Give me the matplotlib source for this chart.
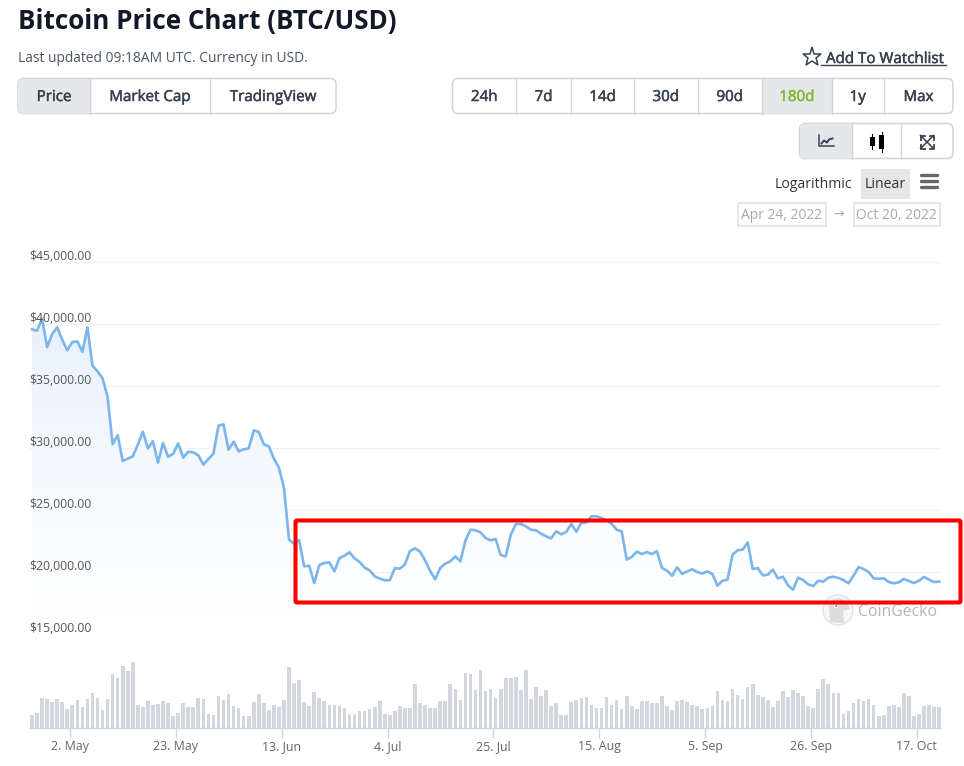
import numpy as np
import pandas as pd
import matplotlib
matplotlib.use("Agg")
import matplotlib.pyplot as plt
import matplotlib.dates as mdates
import matplotlib.patheffects as pe
from matplotlib.colors import LinearSegmentedColormap
from matplotlib.patches import FancyBboxPatch, Rectangle, Circle, Ellipse, Polygon

plt.rcParams['font.family'] = ['Open Sans', 'DejaVu Sans']

W, H = 964, 766

# daily price
prices = [39570, 39460, 40430, 38140, 39190, 39730, 38730, 37880, 38550, 38600,
          37770, 39730, 36640, 36180, 35620, 34110, 30300, 31050, 28950, 29140,
          29330, 30270, 31320, 29970, 30540, 28820, 30400, 29300, 29520, 30380,
          29220, 29700, 29650, 29410, 28660, 29110, 29540, 31800, 31910, 29860,
          30510, 29730, 29890, 29970, 31420, 31290, 30300, 30130, 29140, 28410,
          26770, 22610, 22280, 22580, 20460, 20510, 19110, 20560, 20730, 20780,
          20050, 21130, 21320, 21590, 21100, 20810, 20350, 20130, 19650, 19460,
          19330, 19350, 20320, 20270, 20620, 21690, 21910, 21640, 20940, 20080,
          19410, 20320, 20670, 20860, 21260, 20860, 22550, 23410, 23360, 23200,
          22740, 22550, 22660, 21370, 21260, 23010, 23870, 23870, 23680, 23410,
          23360, 23090, 22880, 22710, 23280, 23040, 23230, 23870, 23250, 23980,
          24000, 24490, 24490, 24350, 24170, 23900, 23410, 23280, 21000, 21210,
          21640, 21450, 21610, 21450, 21670, 20320, 20110, 19700, 20380, 19840,
          20050, 20220, 20000, 19870, 20050, 19840, 18900, 19300, 19380, 21400,
          21750, 21800, 22390, 20240, 20320, 19730, 19780, 20190, 19490, 19620,
          18930, 18580, 19540, 19350, 19000, 18870, 19300, 19220, 19540, 19620,
          19520, 19350, 19090, 19700, 20400, 20240, 20000, 19490, 19460, 19490,
          19190, 19090, 19170, 19440, 19270, 19110, 19300, 19600, 19380, 19190,
          19220]

# daily volume, in relative units
volumes = [38, 45, 89, 85, 76, 85, 76, 55, 68, 82, 62, 85, 103, 89, 52, 85, 161, 150,
           184, 170, 197, 69, 62, 79, 69, 72, 79, 73, 35, 45, 73, 62, 62, 89, 86, 42,
           38, 96, 82, 100, 66, 58, 35, 35, 76, 100, 73, 52, 69, 62, 82, 181, 133, 143,
           76, 66, 106, 89, 79, 69, 69, 65, 59, 42, 42, 49, 49, 55, 62, 79, 42, 38,
           49, 65, 59, 59, 130, 73, 69, 59, 59, 79, 79, 130, 116, 83, 164, 160, 113, 173,
           109, 116, 89, 116, 150, 150, 153, 113, 173, 86, 123, 96, 113, 66, 73, 38, 38, 76,
           82, 89, 92, 69, 59, 59, 92, 69, 82, 55, 96, 66, 55, 79, 79, 73, 73, 96,
           66, 52, 79, 82, 76, 69, 66, 55, 59, 66, 109, 82, 79, 116, 99, 86, 123, 130,
           99, 92, 82, 62, 79, 109, 92, 113, 103, 96, 66, 59, 116, 146, 130, 103, 103, 42,
           49, 73, 86, 79, 86, 69, 35, 38, 66, 69, 62, 103, 96, 35, 42, 66, 69, 62,
           62]

price_ticks = [15000, 20000, 25000, 30000, 35000, 40000, 45000]
date_ticks = ["2022-05-02", "2022-05-23", "2022-06-13", "2022-07-04", "2022-07-25",
              "2022-08-15", "2022-09-05", "2022-09-26", "2022-10-17"]
date_labels = ["2. May", "23. May", "13. Jun", "4. Jul", "25. Jul",
               "15. Aug", "5. Sep", "26. Sep", "17. Oct"]

days = pd.date_range("2022-04-24 11:00", periods=len(prices), freq="D")

INK = "#374151"
BORDER = "#D1D5DB"
SELECTED = "#E5E7EB"


def px_axes(fig, left, top, right, bottom, **kw):
    return fig.add_axes([left / W, 1 - bottom / H, (right - left) / W, (bottom - top) / H], **kw)


fig = plt.figure(figsize=(W / 100, H / 100), dpi=100, facecolor="white")

# x range of the plot, 5.04 px per day with 2 May at x=70
x0 = mdates.date2num(pd.Timestamp("2022-05-02"))
xlim = (x0 + (29.5 - 70) / 5.04, x0 + (941 - 70) / 5.04)

# price panel
ax = px_axes(fig, 29.5, 262, 941, 634)
ax.set_facecolor("none")
cmap = LinearSegmentedColormap.from_list("fade", ["#E6F0FB", "#F6FAFE", "#FFFFFF"])
img = ax.imshow(np.linspace(0, 1, 256).reshape(-1, 1), cmap=cmap, aspect="auto", zorder=1,
                extent=[xlim[0], xlim[1], 15000, 41000], origin="upper")
poly = ax.fill_between(days, prices, 15000, color="none")
img.set_clip_path(poly.get_paths()[0], transform=ax.transData)
ax.plot(days, prices, color="#7CB5EC", lw=1.9, zorder=3, solid_joinstyle="round")
ax.set_xlim(xlim)
ax.set_ylim(15000, 45000)
for p in price_ticks:
    ax.axhline(p, color="#F0F2F6", lw=1, zorder=0)
    ax.annotate("${:,.2f}".format(p), (0, p), xycoords=("axes fraction", "data"),
                xytext=(0, 5.5), textcoords="offset pixels", fontsize=8.8, color="#555555",
                ha="left", va="center", zorder=4, clip_on=False)
ax.set_xticks([])
ax.set_yticks([])
for s in ax.spines.values():
    s.set_visible(False)

# volume panel
vax = px_axes(fig, 29.5, 650, 941, 727.5)
vax.set_facecolor("none")
vax.bar(days, volumes, width=0.72, color="#D3D6DC")
vax.set_xlim(xlim)
vax.set_ylim(0, 232.5)
vax.set_yticks([])
vax.set_xticks(mdates.date2num(pd.to_datetime(date_ticks)))
vax.set_xticklabels(date_labels, fontsize=8.9, color="#666666")
vax.tick_params(axis="x", length=7.2, width=1, color="#CCD6EB", pad=1.5)
for name, s in vax.spines.items():
    s.set_visible(name == "bottom")
vax.spines["bottom"].set_color("#CCD6EB")
vax.spines["bottom"].set_linewidth(1)

# page furniture, in pixel coordinates
ui = fig.add_axes([0, 0, 1, 1], zorder=5)
ui.set_xlim(0, W)
ui.set_ylim(H, 0)
ui.axis("off")

medium = [pe.withStroke(linewidth=0.35, foreground=INK)]


def button_group(left, right, top, bottom, edges, labels, selected=None):
    box = FancyBboxPatch((left, top), right - left, bottom - top,
                         boxstyle="round,pad=0,rounding_size=6", fc="white", ec=BORDER, lw=1.1, zorder=2)
    ui.add_patch(box)
    stops = [left] + edges + [right]
    if selected is not None:
        fillr = Rectangle((stops[selected], top), stops[selected + 1] - stops[selected], bottom - top,
                          fc=SELECTED, ec="none", zorder=2.1)
        ui.add_patch(fillr)
        fillr.set_clip_path(box)
    for e in edges:
        ui.plot([e, e], [top, bottom], color=BORDER, lw=1, zorder=2.2)
    for i, lab in enumerate(labels):
        color = INK
        if lab == "180d":
            color = "#84B82F"
        t = ui.text((stops[i] + stops[i + 1]) / 2, (top + bottom) / 2 + 1.5, lab, fontsize=10.9, color=color,
                    ha="center", va="center", zorder=3)
        t.set_path_effects([pe.withStroke(linewidth=0.35, foreground=color)])


ui.text(18.5, 21, "Bitcoin Price Chart (BTC/USD)", fontsize=18.7, fontweight="bold", color="#111827",
        ha="left", va="center")
ui.text(18, 59, "Last updated 09:18AM UTC. Currency in USD.", fontsize=9.95, color="#4B5563",
        ha="left", va="center")

ui.plot([812], [57], marker="*", ms=14, mfc="none", mec=INK, mew=1.1)
ui.text(826, 59.5, "Add To Watchlist", fontsize=10.9, color=INK, ha="left", va="center", path_effects=medium)
ui.plot([821, 946], [64.5, 64.5], color=INK, lw=1)

button_group(18, 336, 78.5, 113.5, [90, 210], ["Price", "Market Cap", "TradingView"], selected=0)
button_group(452.5, 953, 78.5, 113.5, [516, 571, 634, 697.5, 762, 831.5, 884],
             ["24h", "7d", "14d", "30d", "90d", "180d", "1y", "Max"], selected=5)
button_group(799.5, 953, 123.5, 158.5, [851.5, 901], ["", "", ""], selected=0)

# line chart icon
ui.plot([819, 819, 833.5], [135, 146, 146], color=INK, lw=1.1, zorder=4)
ui.plot([821.5, 824, 827, 829, 832.5], [143.5, 140.5, 142.5, 139.5, 138.5], color=INK, lw=1.4, zorder=4)
# candle icon
ui.plot([872, 872], [134, 149], color="black", lw=0.8, zorder=4)
ui.plot([881.5, 881.5], [132, 152], color="black", lw=0.8, zorder=4)
ui.add_patch(Rectangle((870, 137), 5, 9, fc="black", ec="none", zorder=4))
ui.add_patch(Rectangle((879, 135), 5, 14, fc="black", ec="none", zorder=4))
# expand icon
cx, cy, r = 927, 142, 6.5
ui.plot([cx - r, cx + r], [cy - r, cy + r], color=INK, lw=1.1, zorder=4)
ui.plot([cx - r, cx + r], [cy + r, cy - r], color=INK, lw=1.1, zorder=4)
for sx in (-1, 1):
    for sy in (-1, 1):
        ui.plot([cx + sx * (r - 4), cx + sx * r, cx + sx * r], [cy + sy * r, cy + sy * r, cy + sy * (r - 4)],
                color=INK, lw=1.3, zorder=4)

# range selector row
ui.text(775, 185, "Logarithmic", fontsize=10.1, color="#333333", ha="left", va="center")
ui.add_patch(Rectangle((861, 169), 49, 30, fc="#E6E6E6", ec="none"))
ui.text(885.5, 185, "Linear", fontsize=10.1, color="#333333", ha="center", va="center")
for y in (175, 181, 187):
    ui.plot([920.5, 936.5], [y, y], color="#666666", lw=2.4, solid_capstyle="round")

ui.add_patch(Rectangle((737.5, 202.5), 88, 23.5, fc="white", ec="#E0E0E0", lw=1.1))
ui.text(781.5, 215.5, "Apr 24, 2022", fontsize=10, color="#A8A8A8", ha="center", va="center")
ui.text(839, 214, "\u2192", fontsize=9, color="#AAAAAA", ha="center", va="center",
        family=['DejaVu Sans'])
ui.add_patch(Rectangle((853.5, 202.5), 86, 23.5, fc="white", ec="#E0E0E0", lw=1.1))
ui.text(896.5, 215.5, "Oct 20, 2022", fontsize=10, color="#A8A8A8", ha="center", va="center")

# watermark
ui.add_patch(Circle((838, 610), 15, fc="#F7F7F7", ec="#E2E2E2", lw=1, zorder=1))
ui.add_patch(Polygon([[830, 622], [829, 606], [833, 599], [841, 598], [848, 604], [850, 609],
                      [843, 611], [844, 623]], closed=True, fc="#DDDDDD", ec="none", zorder=1.1))
ui.add_patch(Ellipse((836, 606), 4, 4, fc="white", ec="none", zorder=1.2))
ui.add_patch(Circle((836.3, 606), 1, fc="#777777", ec="none", zorder=1.3))
ui.text(858, 612, "CoinGecko", fontsize=11.3, color="#B5B5B5", ha="left", va="center", zorder=1)

# red highlight box
ui.add_patch(FancyBboxPatch((295.5, 520.5), 665, 82, boxstyle="round,pad=0,rounding_size=1.5",
                            fc="none", ec="#FF0000", lw=2.9, zorder=6))

fig.savefig("out.png", dpi=100, facecolor="white")
